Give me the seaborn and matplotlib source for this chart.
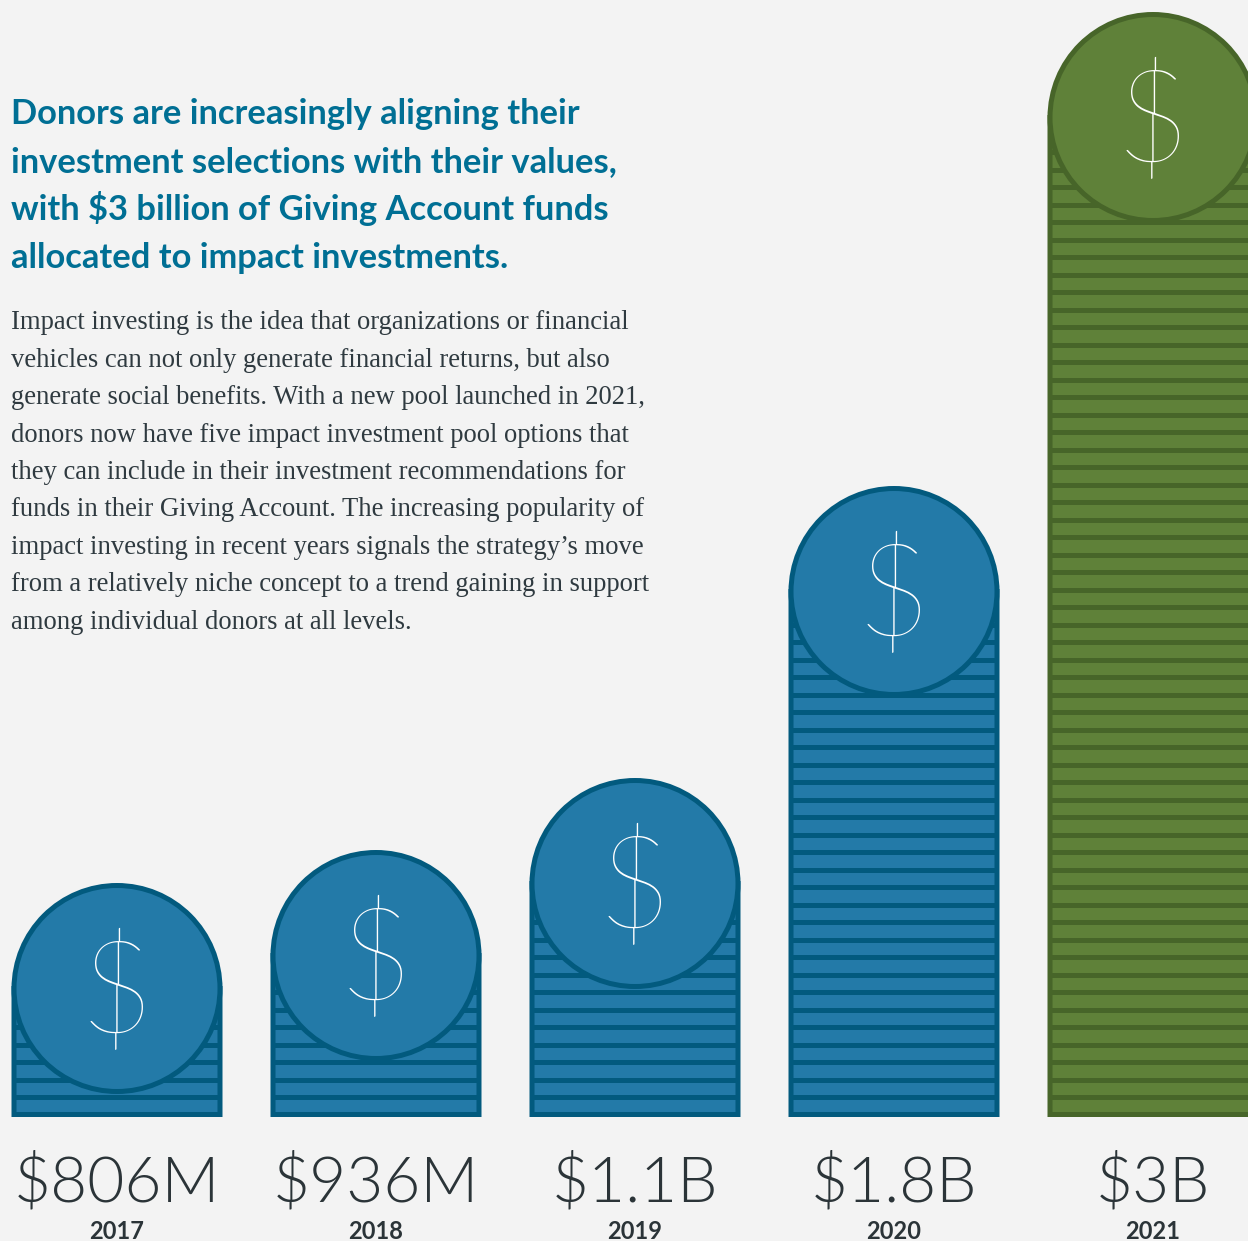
"""
Impact investing in Giving Accounts: coin stacks by year.
Stack heights are read off the picture, y units are pixels above the baseline.
"""

import pandas as pd
import numpy as np
import matplotlib.pyplot as plt
import seaborn as sns

years = ["2017", "2018", "2019", "2020", "2021"]
value_labels = ["$806M", "$936M", "$1.1B", "$1.8B", "$3B"]
stack_heights = [126, 159, 231, 523, 997]

title_lines = [
    "Donors are increasingly aligning their",
    "investment selections with their values,",
    "with $3 billion of Giving Account funds",
    "allocated to impact investments.",
]
body_lines = [
    "Impact investing is the idea that organizations or financial",
    "vehicles can not only generate financial returns, but also",
    "generate social benefits. With a new pool launched in 2021,",
    "donors now have five impact investment pool options that",
    "they can include in their investment recommendations for",
    "funds in their Giving Account. The increasing popularity of",
    "impact investing in recent years signals the strategy\u2019s move",
    "from a relatively niche concept to a trend gaining in support",
    "among individual donors at all levels.",
]

fills = ["#237aa8", "#237aa8", "#237aa8", "#237aa8", "#5f8139"]
edges = ["#025a7e", "#025a7e", "#025a7e", "#025a7e", "#476529"]

BG = "#f3f3f3"
W, H = 1248, 1241
BASE = 1114.5  # pixel row of y=0
STEP = 259  # pixels between bars
FIRST = 117  # pixel column of the first bar

sns.set_style("white")
plt.rcParams["font.family"] = ["Lato", "DejaVu Sans"]

df = pd.DataFrame({"year": years, "height": stack_heights})

fig = plt.figure(figsize=(W / 100, H / 100), dpi=100, facecolor=BG)
ax = fig.add_axes([0, 0, 1, 1])
ax.set_facecolor(BG)

sns.barplot(data=df, x="year", y="height", hue="year", palette=fills,
            legend=False, width=206 / STEP, saturation=1, ax=ax)
for patch, edge in zip(ax.patches, edges):
    patch.set_edgecolor(edge)
    patch.set_linewidth(3.6)
    patch.set_joinstyle("miter")
    patch.set_snap(False)

# stripes between the coins in each stack
half = 103 / STEP
for i, height in enumerate(stack_heights):
    rows = np.arange(17.5, height, 17.5)
    ax.hlines(rows, i - half, i + half, color=edges[i], linewidth=3.6, zorder=3)

# coin on top of each stack
sns.scatterplot(x=np.arange(len(years)), y=stack_heights, hue=years,
                palette=fills, s=(206 * 0.72) ** 2, edgecolor=edges,
                linewidth=3.6, legend=False, zorder=4, ax=ax)

for i, height in enumerate(stack_heights):
    ax.text(i, height - 6, "$", color="white", fontsize=92, fontweight="light",
            ha="center", va="center", zorder=5)
    ax.text(i, -87, value_labels[i], color="#2b3438", fontsize=46,
            fontweight=300, ha="center", va="baseline")
    ax.text(i - 0.003, -124.5, years[i], color="#2b3438", fontsize=17,
            fontweight="bold", ha="center", va="baseline")

ax.set_xlim(-FIRST / STEP, (W - FIRST) / STEP)
ax.set_ylim(BASE - H, BASE)
ax.axis("off")

for k, line in enumerate(title_lines):
    fig.text(11 / W, 1 - (124 + 48 * k) / H, line, color="#006f94", fontsize=24.8,
             fontweight="bold", ha="left", va="baseline")
for k, line in enumerate(body_lines):
    fig.text(11 / W, 1 - (329.5 + 37.4 * k) / H, line, color="#2f3a40", fontsize=19.2,
             family=["Liberation Serif"], ha="left", va="baseline")

fig.savefig("out.png", dpi=100, facecolor=BG)
plt.close()
